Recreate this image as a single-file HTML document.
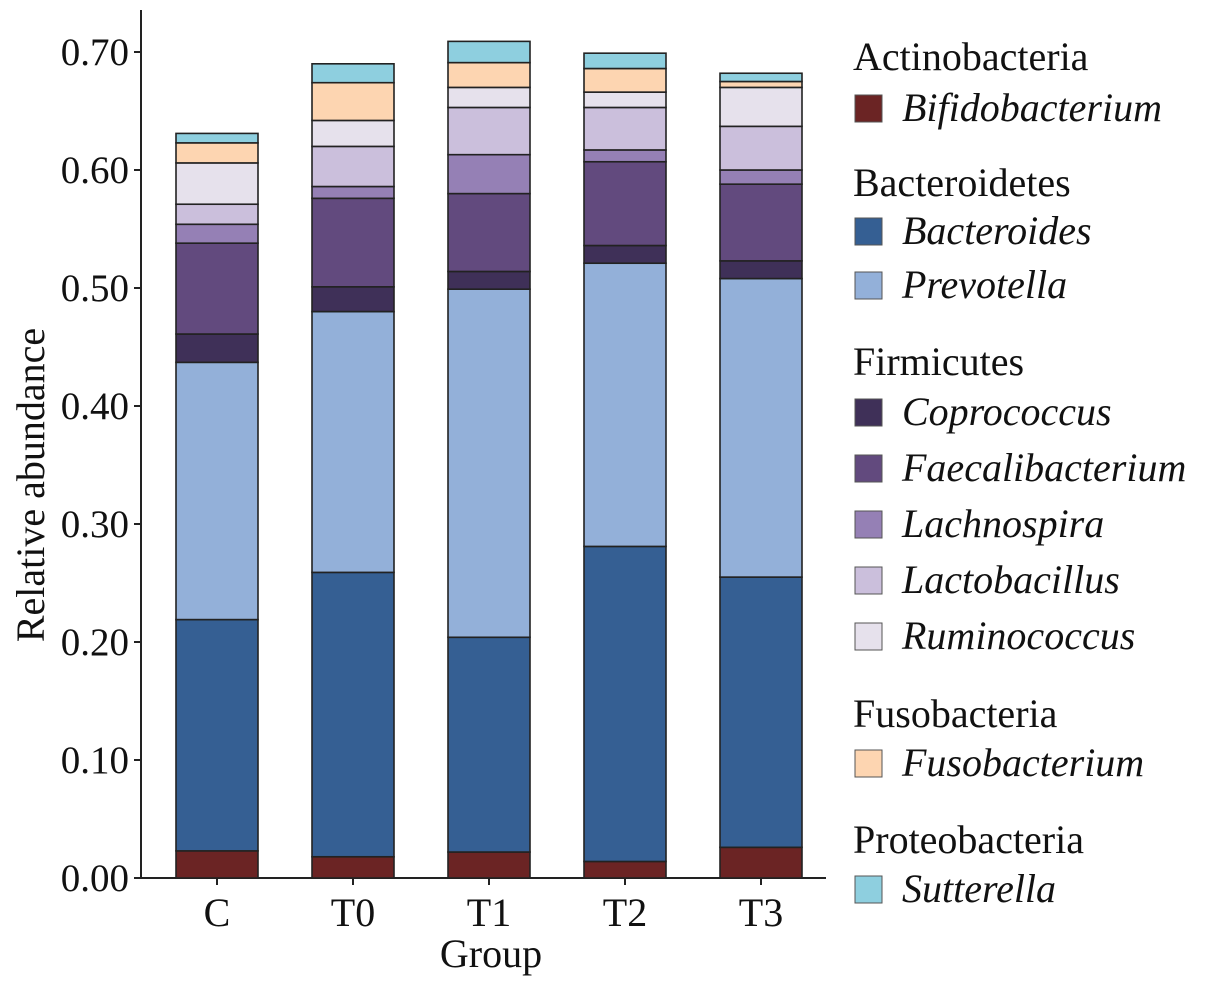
<!DOCTYPE html>
<html><head><meta charset="utf-8"><style>
body{margin:0;background:#fff;}
svg text{font-family:"Liberation Serif",serif;fill:#111;}
</style></head><body>
<svg id="c" width="1205" height="987" viewBox="0 0 1205 987" xmlns="http://www.w3.org/2000/svg"></svg>
<script>
const categories=["C","T0","T1","T2","T3"];
const genera=["Bifidobacterium","Bacteroides","Prevotella","Coprococcus","Faecalibacterium","Lachnospira","Lactobacillus","Ruminococcus","Fusobacterium","Sutterella"];
const bifidobacterium=[0.023,0.018,0.022,0.014,0.026];
const bacteroides=[0.196,0.241,0.182,0.267,0.229];
const prevotella=[0.218,0.221,0.295,0.240,0.253];
const coprococcus=[0.024,0.021,0.015,0.015,0.015];
const faecalibacterium=[0.077,0.075,0.066,0.071,0.065];
const lachnospira=[0.016,0.010,0.033,0.010,0.012];
const lactobacillus=[0.017,0.034,0.040,0.036,0.037];
const ruminococcus=[0.035,0.022,0.017,0.013,0.033];
const fusobacterium=[0.017,0.032,0.021,0.020,0.005];
const sutterella=[0.008,0.016,0.018,0.013,0.007];
const yTicks=["0.00","0.10","0.20","0.30","0.40","0.50","0.60","0.70"];
const series=[bifidobacterium,bacteroides,prevotella,coprococcus,faecalibacterium,lachnospira,lactobacillus,ruminococcus,fusobacterium,sutterella];
const colors=["#6b2424","#355f93","#93b0d9","#3f3058","#624a7e","#9580b5","#cbbfdc","#e6e1ec","#fdd5b1","#8ecfdf"];
const legendGroups=[["Actinobacteria",[0]],["Bacteroidetes",[1,2]],["Firmicutes",[3,4,5,6,7]],["Fusobacteria",[8]],["Proteobacteria",[9]]];
const NS="http://www.w3.org/2000/svg";
const svg=document.getElementById("c");
function mk(t,a,p){const e=document.createElementNS(NS,t);for(const k in a)e.setAttribute(k,a[k]);(p||svg).appendChild(e);return e;}
const y0=878,pxPer=1180;
const y=v=>y0-v*pxPer;
const x=i=>217+i*136;
const bw=82;
const ax=mk("line",{x1:141,y1:10,x2:141,y2:879,stroke:"#222","stroke-width":2});


const bx=mk("line",{x1:140,y1:878,x2:826,y2:878,stroke:"#222","stroke-width":2});


yTicks.forEach(t=>{
  const v=parseFloat(t);
  const tk=mk("line",{x1:134,y1:y(v),x2:141,y2:y(v),stroke:"#222","stroke-width":2});
  
  
  const tx=mk("text",{x:129,y:y(v)+13,"text-anchor":"end","font-size":39});
  tx.textContent=t;
  
  
});
categories.forEach((c,i)=>{
  const tk=mk("line",{x1:x(i),y1:878,x2:x(i),y2:885,stroke:"#222","stroke-width":2});
  
  
  const tx=mk("text",{x:x(i),y:926,"text-anchor":"middle","font-size":40});
  tx.textContent=c;
  
  
  let acc=0;
  series.forEach((s,k)=>{
    const r=mk("rect",{x:x(i)-bw/2,y:y(acc+s[i]),width:bw,height:s[i]*pxPer,fill:colors[k],stroke:"#222","stroke-width":1.6});
    
    
    acc+=s[i];
  });
});
const yt=mk("text",{x:0,y:0,transform:"translate(44,485) rotate(-90)","text-anchor":"middle","font-size":40});
yt.textContent="Relative abundance";


const xt=mk("text",{x:491,y:967,"text-anchor":"middle","font-size":40});
xt.textContent="Group";


const headerY=[70,196,375,727,853];
const itemY=[[108],[231,285],[412,468,524,580,636],[763],[889]];
legendGroups.forEach((g,gi)=>{
  const h=mk("text",{x:853,y:headerY[gi],"font-size":40});
  h.textContent=g[0];
  
  
  g[1].forEach((k,j)=>{
    const cy=itemY[gi][j];
    const sw=mk("rect",{x:855,y:cy-13,width:27,height:27,fill:colors[k],stroke:"#555","stroke-width":1});
    
    
    const t=mk("text",{x:902,y:cy+13,"font-size":40,"font-style":"italic"});
    t.textContent=genera[k];
    
    
  });
});
</script>
</body></html>
